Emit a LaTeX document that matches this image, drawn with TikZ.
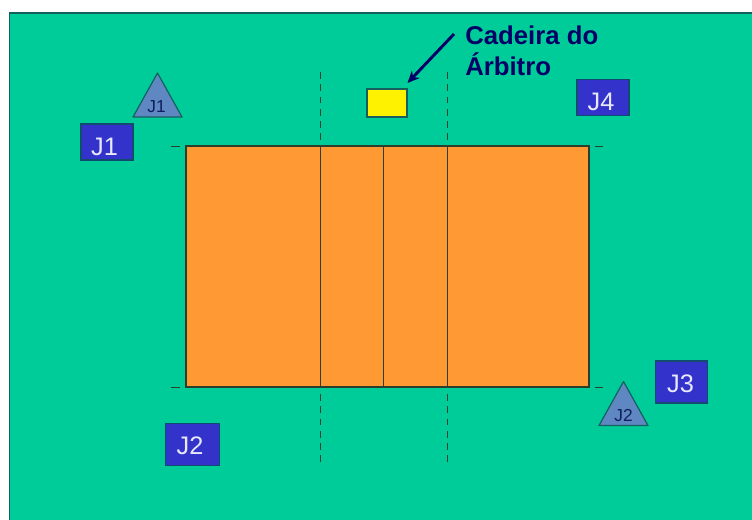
\documentclass[tikz,border=0pt]{standalone}
\usepackage{fontspec}
\setmainfont{Liberation Sans}
\usetikzlibrary{arrows.meta}
\definecolor{bggreen}{HTML}{00CC99}
\definecolor{courtorange}{HTML}{FF9933}
\definecolor{boxblue}{HTML}{3333CC}
\definecolor{triblue}{HTML}{5F87C2}
\definecolor{navy}{HTML}{000066}
\definecolor{edge}{HTML}{15605F}
\definecolor{boxedge}{HTML}{134A70}
\definecolor{courtline}{HTML}{2B3F2B}
\definecolor{boxtxt}{HTML}{E8E8FA}
\definecolor{tritxt}{HTML}{0F1E5C}
\tikzset{
  x=0.75pt,y=-0.75pt,
  playerbox/.style={draw=boxedge,fill=boxblue,line width=0.9pt,text=boxtxt,inner sep=0pt,text depth=0pt,font=\fontsize{19}{19}\selectfont},
  refbox/.style={draw=edge,fill=yellow,line width=0.8pt},
  triangleshape/.style={draw=edge,fill=triblue,line width=0.9pt,line join=round},
  trilabel/.style={text=tritxt,inner sep=0pt,font=\fontsize{13}{13}\selectfont},
  courtedge/.style={draw=courtline,line width=0.95pt},
  dashline/.style={draw=courtline,line width=0.75pt,dash pattern=on 5.2pt off 4pt},
  tickline/.style={draw=courtline,line width=0.7pt}
}
\begin{document}
\begin{tikzpicture}
\useasboundingbox (0,0) rectangle (752,519);
\fill[white] (0,0) rectangle (752,519);
\begin{scope}
\clip (0,0) rectangle (752,519);
\path[fill=bggreen,draw=edge,line width=0.8pt] (9.5,13) -- (770,13) -- (770,540) -- (9.5,540) -- cycle;
\end{scope}
% court
\path[fill=courtorange,courtedge] (186,146) rectangle (589,387);
\coordinate (a1) at (320.5,146); \coordinate (a2) at (320.5,387);
\coordinate (b1) at (383.5,146); \coordinate (b2) at (383.5,387);
\coordinate (c1) at (447.5,146); \coordinate (c2) at (447.5,387);
\draw[courtedge] (a1) -- (a2);
\draw[courtedge] (b1) -- (b2);
\draw[courtedge] (c1) -- (c2);
% dashed extensions
\coordinate (a3) at (320.5,72); \coordinate (a4) at (320.5,140);
\coordinate (a5) at (320.5,394); \coordinate (a6) at (320.5,463);
\coordinate (c3) at (447.5,72); \coordinate (c4) at (447.5,140);
\coordinate (c5) at (447.5,394); \coordinate (c6) at (447.5,463);
\draw[dashline] (a3) -- (a4);
\draw[dashline] (a5) -- (a6);
\draw[dashline] (c3) -- (c4);
\draw[dashline] (c5) -- (c6);
% corner ticks
\draw[tickline] (171,146) -- (180,146);
\draw[tickline] (595,146) -- (603,146);
\draw[tickline] (171,387.5) -- (180,387.5);
\draw[tickline] (595,387.5) -- (603,387.5);
% player boxes
\node[playerbox,minimum width=39pt,minimum height=27pt,text height=20.4pt] (J1) at (107,142) {J1\kern3.8pt};
\node[playerbox,minimum width=39pt,minimum height=27.5pt,text height=18.8pt] (J4) at (603,97.5) {J4\kern3pt};
\node[playerbox,minimum width=40pt,minimum height=32pt,text height=15.1pt] (J2) at (192.5,444.5) {J2\kern3.8pt};
\node[playerbox,minimum width=38.5pt,minimum height=31.5pt,text height=15.1pt] (J3) at (681.5,382) {J3\kern1.5pt};
% triangles
\path[triangleshape] (157.5,73) -- (182,117) -- (133,117) -- cycle;
\node[trilabel] (T1) at (156.5,106.5) {J1};
\path[triangleshape] (623.5,381.5) -- (648,425.5) -- (599,425.5) -- cycle;
\node[trilabel] (T2) at (623.5,415.5) {J2};
% referee chair
\node[refbox,minimum width=30pt,minimum height=21pt,inner sep=0pt] (chair) at (387,103) {};
% label
\node[anchor=base west,inner sep=0pt,text=navy,font=\fontsize{19.3}{19.3}\selectfont\bfseries] (lab1) at (465,44) {Cadeira do};
\node[anchor=base west,inner sep=0pt,text=navy,font=\fontsize{19.3}{19.3}\selectfont\bfseries] (lab2) at (465,75.5) {Árbitro};
\coordinate (arrowstart) at (454,34);
\coordinate (arrowend) at (407.5,83);
\draw[navy,line width=2.2pt,-{Stealth[length=9pt,width=8pt]}] (arrowstart) -- (arrowend);
\end{tikzpicture}
\end{document}
